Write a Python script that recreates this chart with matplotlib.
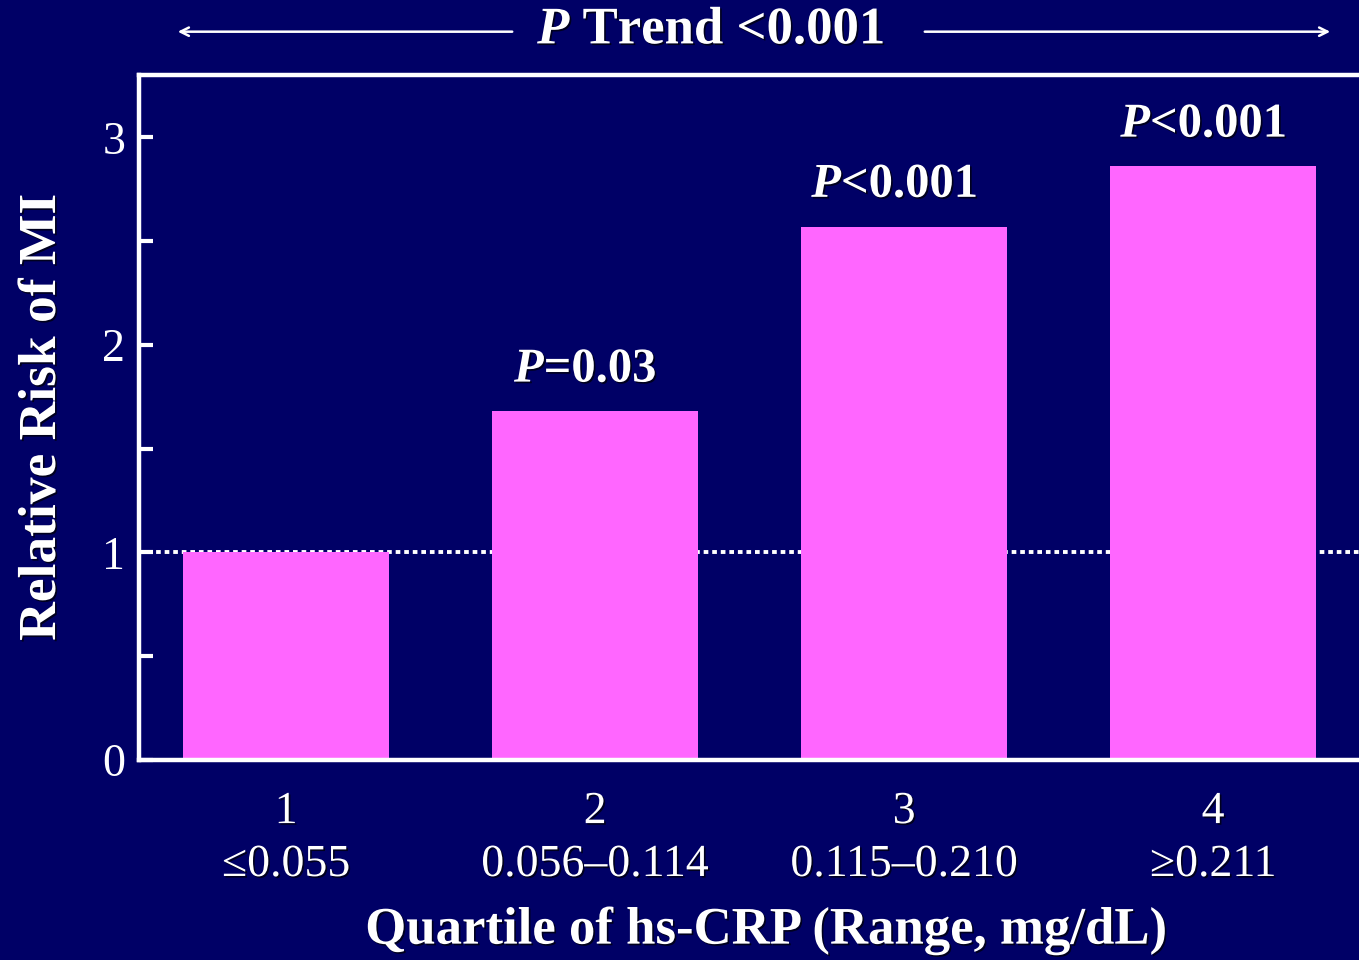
import matplotlib
matplotlib.use('Agg')
import matplotlib.pyplot as plt
import matplotlib.patheffects as pe

# relative risk of MI by quartile of hs-CRP
quartiles = [1, 2, 3, 4]
ranges = ['≤0.055', '0.056–0.114', '0.115–0.210', '≥0.211']
rel_risk = [1.0, 1.68, 2.57, 2.86]
p_labels = ['', '$P$=0.03', '$P$<0.001', '$P$<0.001']
trend_label = '$P$ Trend <0.001'

navy = '#000066'
pink = '#FF66FF'

plt.rcParams['font.family'] = 'Liberation Serif'
plt.rcParams['mathtext.fontset'] = 'custom'
plt.rcParams['mathtext.it'] = 'Liberation Serif:bold:italic'
plt.rcParams['mathtext.rm'] = 'Liberation Serif:bold'

shadow = [pe.withSimplePatchShadow(offset=(1.2, -1.2), shadow_rgbFace='black', alpha=0.7)]

fig = plt.figure(figsize=(13.59, 9.6), dpi=100, facecolor=navy)
ax = fig.add_axes([0.1023, 0.2083, 0.8977, 0.7136], facecolor=navy)

# reference line at RR = 1
ax.axhline(1, color='white', lw=2.8, dashes=(1.2, 1.0), zorder=1)
ax.bar(quartiles, rel_risk, width=0.665, color=pink, zorder=2)

for x, h, lab in zip(quartiles, rel_risk, p_labels):
    if lab:
        ax.annotate(lab, (x, h), xytext=(-7, 14), textcoords='offset points',
                    ha='center', va='bottom', color='white', fontsize=35,
                    fontweight='bold', path_effects=shadow)

ax.set_xlim(0.524, 4.472)
ax.set_ylim(0, 3.3)
ax.set_yticks([0, 1, 2, 3])
ax.set_yticks([0.5, 1.5, 2.5], minor=True)
ax.set_xticks(quartiles)
ax.set_xticklabels([f'{q}\n{r}' for q, r in zip(quartiles, ranges)])
for t in ax.get_xticklabels():
    t.set_path_effects(shadow)
    t.set_linespacing(1.32)
ax.tick_params(axis='y', which='both', direction='in', length=10, width=3,
               colors='white', labelsize=33, pad=10)
ax.tick_params(axis='x', length=0, colors='white', labelsize=33, pad=22)

for side in ['left', 'bottom', 'top']:
    ax.spines[side].set_color('white')
    ax.spines[side].set_linewidth(3.2)
ax.spines['right'].set_visible(False)

ax.set_ylabel('Relative Risk of MI', color='white', fontsize=38.5,
              fontweight='bold', labelpad=26, path_effects=shadow)
ax.set_xlabel('Quartile of hs-CRP (Range, mg/dL)', color='white', fontsize=38,
              fontweight='bold', path_effects=shadow)
ax.xaxis.set_label_coords(0.514, -0.214)

# overall trend with arrows on both sides
fig.text(0.523, 0.968, trend_label, ha='center', va='center', color='white',
         fontsize=38, fontweight='bold', path_effects=shadow)
ax.annotate('', xy=(175 / 1359, 0.967), xytext=(515 / 1359, 0.967),
            xycoords='figure fraction', textcoords='figure fraction',
            arrowprops=dict(arrowstyle='->,head_length=0.6,head_width=0.3',
                            color='white', lw=1.8))
ax.annotate('', xy=(1333 / 1359, 0.967), xytext=(922 / 1359, 0.967),
            xycoords='figure fraction', textcoords='figure fraction',
            arrowprops=dict(arrowstyle='->,head_length=0.6,head_width=0.3',
                            color='white', lw=1.8))

fig.savefig('out.png', dpi=100, facecolor=navy)
